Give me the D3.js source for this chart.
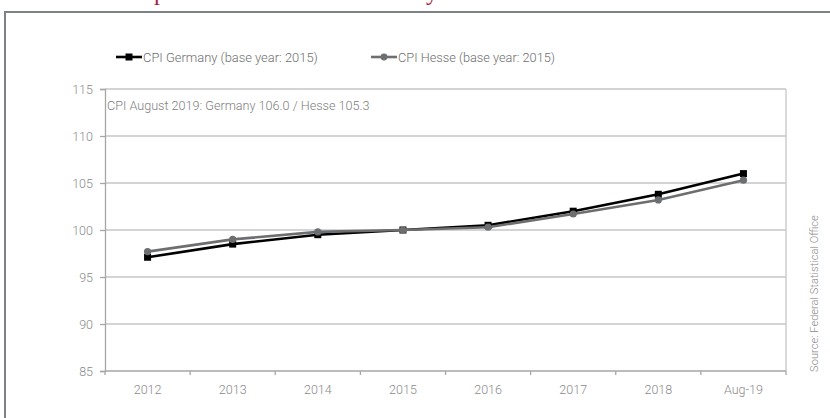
<!DOCTYPE html>
<html><head><meta charset="utf-8">
<script src="https://cdn.jsdelivr.net/npm/d3@7"></script>
<style>body{margin:0;background:#fff}svg{display:block}</style>
</head><body>
<script>
const categories = ["2012","2013","2014","2015","2016","2017","2018","Aug-19"];
const germany = [97.1, 98.5, 99.5, 100.0, 100.5, 102.0, 103.8, 106.0];
const hesse   = [97.7, 99.0, 99.8, 100.0, 100.3, 101.7, 103.2, 105.3];
const yTicks = [85, 90, 95, 100, 105, 110, 115];
const seriesNames = ["CPI Germany (base year: 2015)", "CPI Hesse (base year: 2015)"];
const titleText = "Consumer prices in Hesse and Germany";
const annotation = "CPI August 2019: Germany 106.0 / Hesse 105.3";
const sourceText = "Source: Federal Statistical Office";

const W = 830, H = 418;
const svg = d3.select("body").append("svg").attr("width", W).attr("height", H);
const font = "Roboto, 'Liberation Sans', Arial, sans-serif";
const fw = 300;

function fitWidth(sel, target) {
  const w = sel.node().getComputedTextLength();
  const fs = +sel.attr("font-size");
  sel.attr("font-size", fs * target / w);
}

// clipped title (only descenders visible)
const title = svg.append("text").text(titleText)
  .attr("x", 60).attr("y", 0)
  .attr("font-family", "'Liberation Serif', 'DejaVu Serif', serif")
  .attr("font-size", 22).attr("fill", "#a3223a");
(function(){
  const node = title.node();
  const s = titleText;
  const ip = s.indexOf("p"), iy = s.lastIndexOf("y");
  const px = node.getStartPositionOfChar(ip).x, yx = node.getStartPositionOfChar(iy).x;
  const scale = (426 - 154) / (yx - px);
  title.attr("font-size", 22 * scale);
  const px2 = node.getStartPositionOfChar(ip).x;
  title.attr("x", 60 + (154 - px2));
})();

// frame
svg.append("rect").attr("x", 5).attr("y", 12).attr("width", 840).attr("height", 420)
  .attr("fill", "none").attr("stroke", "#7f8285").attr("stroke-width", 2);

const m = {left: 105, right: 786, top: 89, bottom: 371};
const x = d3.scaleBand().domain(categories).range([m.left, m.right]);
const y = d3.scaleLinear().domain([85, 115]).range([m.bottom, m.top]);

// gridlines
svg.append("g").selectAll("line").data(yTicks.filter(d => d !== 85)).join("line")
  .attr("x1", m.left).attr("x2", m.right)
  .attr("y1", d => y(d)).attr("y2", d => y(d))
  .attr("stroke", "#c6c6c6").attr("stroke-width", 1.3);

// right border
svg.append("line").attr("x1", m.right).attr("x2", m.right).attr("y1", m.top).attr("y2", m.bottom)
  .attr("stroke", "#c6c6c6").attr("stroke-width", 1.3);

// y axis
const yAxis = svg.append("g").attr("transform", `translate(${m.left},0)`)
  .call(d3.axisLeft(y).tickValues(yTicks).tickSize(5).tickPadding(7));
// x axis
const xAxis = svg.append("g").attr("transform", `translate(0,${m.bottom})`)
  .call(d3.axisBottom(x).tickSize(0).tickPadding(14));
[yAxis, xAxis].forEach(g => {
  g.selectAll("path").attr("stroke", "#a6a6a6").attr("stroke-width", 1.3);
  g.selectAll("line").attr("stroke", "#a6a6a6").attr("stroke-width", 1.3);
  g.selectAll("text").attr("fill", "#8a8a8a").attr("font-size", 12.5)
    .attr("font-family", font).attr("font-weight", fw);
});
xAxis.select("path").attr("d", `M${m.left},0H${m.right}`);
xAxis.append("g").selectAll("line").data(categories.concat([null])).join("line")
  .attr("x1", (d, i) => m.left + i * x.step()).attr("x2", (d, i) => m.left + i * x.step())
  .attr("y1", 0).attr("y2", 4).attr("stroke", "#a6a6a6").attr("stroke-width", 1.3);

// annotation
const ann = svg.append("text").text(annotation).attr("x", 107).attr("y", 110)
  .attr("font-family", font).attr("font-weight", fw).attr("font-size", 13).attr("fill", "#808080");
fitWidth(ann, 263);

// series
const cx = d => x(d) + x.bandwidth() / 2;
const line = d3.line().x((d, i) => cx(categories[i])).y(d => y(d));
const series = [
  {name: seriesNames[0], values: germany, color: "#000000", marker: "square"},
  {name: seriesNames[1], values: hesse, color: "#6d6e70", marker: "circle"}
];
series.forEach(s => {
  svg.append("path").datum(s.values).attr("d", line)
    .attr("fill", "none").attr("stroke", s.color).attr("stroke-width", 2.6);
  const g = svg.append("g");
  if (s.marker === "square") {
    g.selectAll("rect").data(s.values).join("rect")
      .attr("x", (d, i) => cx(categories[i]) - 3.5).attr("y", d => y(d) - 3.5)
      .attr("width", 7).attr("height", 7).attr("fill", s.color);
  } else {
    g.selectAll("circle").data(s.values).join("circle")
      .attr("cx", (d, i) => cx(categories[i])).attr("cy", d => y(d)).attr("r", 3.6).attr("fill", s.color);
  }
});

// legend
const legendX = [116, 371];
const legendW = [175, 157];
series.forEach((s, i) => {
  const lx = legendX[i], ly = 57;
  svg.append("line").attr("x1", lx).attr("x2", lx + 26).attr("y1", ly).attr("y2", ly)
    .attr("stroke", s.color).attr("stroke-width", 2.6);
  if (s.marker === "square") {
    svg.append("rect").attr("x", lx + 13 - 3.5).attr("y", ly - 3.5).attr("width", 7).attr("height", 7).attr("fill", s.color);
  } else {
    svg.append("circle").attr("cx", lx + 13).attr("cy", ly).attr("r", 3.4).attr("fill", s.color);
  }
  const t = svg.append("text").text(s.name).attr("x", lx + 27).attr("y", ly + 4.5)
    .attr("font-family", font).attr("font-weight", fw).attr("font-size", 12).attr("fill", "#6e6e6e");
  fitWidth(t, legendW[i]);
});

// source
const src = svg.append("text").text(sourceText)
  .attr("transform", `translate(818,${(215 + 372) / 2}) rotate(-90)`)
  .attr("text-anchor", "middle")
  .attr("font-family", font).attr("font-weight", fw).attr("font-size", 10).attr("fill", "#8a8a8a");
fitWidth(src, 157);
</script>
</body></html>
